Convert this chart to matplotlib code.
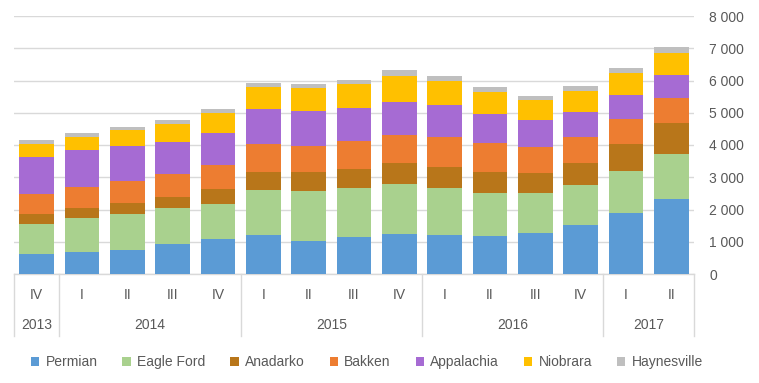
import matplotlib
matplotlib.use('Agg')
from matplotlib import pyplot as plt
from matplotlib.patches import Patch
from matplotlib.ticker import FuncFormatter

quarters = ['IV', 'I', 'II', 'III', 'IV', 'I', 'II', 'III', 'IV',
            'I', 'II', 'III', 'IV', 'I', 'II']
years = ['2013', '2014', '2015', '2016', '2017']
year_counts = [1, 4, 4, 4, 2]

regions = ['Permian', 'Eagle Ford', 'Anadarko', 'Bakken', 'Appalachia', 'Niobrara', 'Haynesville']
permian = [620, 680, 740, 930, 1080, 1210, 1020, 1140, 1240, 1210, 1175, 1270, 1515, 1890, 2320]
eagle_ford = [930, 1050, 1115, 1110, 1085, 1390, 1550, 1520, 1550, 1450, 1330, 1240, 1240, 1300, 1400]
anadarko = [310, 310, 340, 340, 465, 560, 590, 590, 650, 650, 650, 620, 680, 840, 960]
bakken = [630, 650, 680, 710, 740, 870, 800, 870, 870, 930, 900, 800, 800, 775, 775]
appalachia = [1130, 1140, 1100, 1010, 1015, 1080, 1080, 1020, 1020, 990, 900, 840, 775, 745, 710]
niobrara = [420, 430, 500, 565, 595, 680, 740, 740, 800, 770, 680, 620, 650, 680, 680]
haynesville = [100, 120, 95, 95, 125, 120, 120, 150, 190, 155, 155, 125, 155, 155, 185]

series = [permian, eagle_ford, anadarko, bakken, appalachia, niobrara, haynesville]
colors = ['#5B9BD5', '#A9D18E', '#B8761A', '#ED7D31', '#A66BD3', '#FFC000', '#BFBFBF']

text_color = '#595959'
grid_color = '#D9D9D9'
plt.rcParams['font.family'] = ['Liberation Sans', 'DejaVu Sans']
plt.rcParams['font.size'] = 10

W, H = 759, 383
fig = plt.figure(figsize=(W / 100, H / 100), dpi=100)
ax_left, ax_right, ax_top, ax_bottom = 14, 694, 16, 274
ax = fig.add_axes([ax_left / W, (H - ax_bottom) / H,
                   (ax_right - ax_left) / W, (ax_bottom - ax_top) / H])

x = list(range(len(quarters)))
bottom = [0] * len(x)
for name, vals, c in zip(regions, series, colors):
    ax.bar(x, vals, bottom=bottom, width=0.77, color=c, label=name, zorder=3)
    bottom = [b + v for b, v in zip(bottom, vals)]

ax.set_xlim(-0.5, len(x) - 0.5)
ax.set_ylim(0, 8000)
ax.set_yticks(range(0, 8001, 1000))
ax.yaxis.set_major_formatter(FuncFormatter(lambda v, p: f"{int(v):,}".replace(",", " ")))
ax.yaxis.tick_right()
ax.tick_params(axis='y', length=0, pad=11, colors=text_color, labelsize=10)
ax.tick_params(axis='x', length=0, labelbottom=False)
ax.grid(axis='y', color=grid_color, linewidth=1, zorder=0)
for s in ['top', 'left', 'right']:
    ax.spines[s].set_visible(False)
ax.spines['bottom'].set_color(grid_color)
ax.spines['bottom'].set_linewidth(1)

# category axis: quarters and years
ah = ax_bottom - ax_top
tr = ax.get_xaxis_transform()
for i, q in enumerate(quarters):
    ax.text(i, (ax_bottom - 295) / ah, q, transform=tr, ha='center', va='center',
            color=text_color, fontsize=10)
start = 0
sep_y = (ax_bottom - 336) / ah
ax.plot([-0.5, -0.5], [0, sep_y], transform=tr, color=grid_color, lw=1, clip_on=False)
for yr, n in zip(years, year_counts):
    ax.text(start + (n - 1) / 2, (ax_bottom - 325) / ah, yr, transform=tr,
            ha='center', va='center', color=text_color, fontsize=10)
    start += n
    ax.plot([start - 0.5, start - 0.5], [0, sep_y], transform=tr, color=grid_color,
            lw=1, clip_on=False)

handles = [Patch(facecolor=c, edgecolor='none', label=n) for n, c in zip(regions, colors)]
leg = ax.legend(handles=handles, loc='center', bbox_to_anchor=(0.519, (ax_bottom - 362) / ah),
                ncol=7, frameon=False, handlelength=0.6, handleheight=0.6,
                handletextpad=0.45, columnspacing=1.8, fontsize=10)
for t in leg.get_texts():
    t.set_color(text_color)

fig.savefig('out.png', dpi=100)
